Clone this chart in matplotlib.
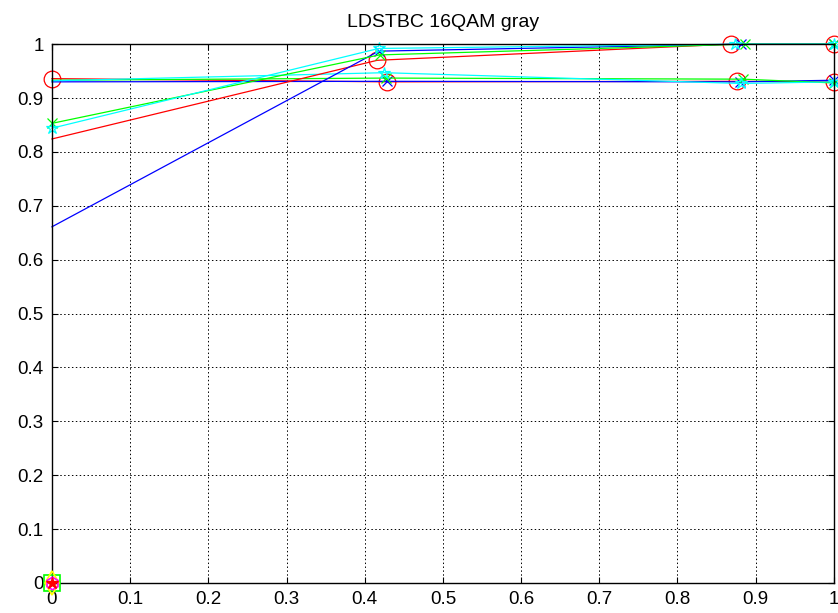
import matplotlib
matplotlib.use("Agg")
import matplotlib.pyplot as plt

plt.rcParams['font.family'] = ['Liberation Sans', 'DejaVu Sans']

title = "LDSTBC 16QAM gray"

# Upper group of curves
up_red_x = [0.0, 0.416, 0.868, 1.0]
up_red_y = [0.824, 0.970, 1.000, 1.000]
up_blue_x = [0.0, 0.418, 0.881, 1.0]
up_blue_y = [0.661, 0.987, 1.000, 1.000]
up_green_x = [0.0, 0.419, 0.886, 1.0]
up_green_y = [0.853, 0.980, 1.000, 1.000]
up_cyan_x = [0.0, 0.418, 0.873, 1.0]
up_cyan_y = [0.844, 0.992, 1.000, 1.000]

# Lower group of curves
lo_red_x = [0.0, 0.428, 0.876, 1.0]
lo_red_y = [0.936, 0.930, 0.931, 0.930]
lo_blue_x = [0.0, 0.429, 0.880, 1.0]
lo_blue_y = [0.930, 0.931, 0.930, 0.933]
lo_green_x = [0.0, 0.427, 0.884, 1.0]
lo_green_y = [0.933, 0.937, 0.935, 0.928]
lo_cyan_x = [0.0, 0.425, 0.881, 1.0]
lo_cyan_y = [0.932, 0.947, 0.927, 0.930]

# Single points at the origin
origin_x = [0.0]
origin_y = [0.0]

xticks = [0, 0.1, 0.2, 0.3, 0.4, 0.5, 0.6, 0.7, 0.8, 0.9, 1]
yticks = [0, 0.1, 0.2, 0.3, 0.4, 0.5, 0.6, 0.7, 0.8, 0.9, 1]

fig = plt.figure(figsize=(8.38, 6.13), dpi=100)
ax = fig.add_axes([0.062, 0.049, 0.933, 0.879])

lw = 0.9
# origin markers
ax.plot(origin_x, origin_y, 's', color=(0, 1, 0), ms=11, mfc='none', mew=1.2,
        clip_on=False, zorder=5)
ax.plot(origin_x, origin_y, 'd', color=(1, 1, 0), ms=12, mfc='none', mew=1.2,
        clip_on=False, zorder=5)
ax.plot(origin_x, origin_y, 'h', color=(1, 0, 1), ms=9, mfc='none', mew=1.2,
        clip_on=False, zorder=5)
ax.plot(origin_x, origin_y, '*', color=(1, 0, 0), ms=9, mew=1,
        clip_on=False, zorder=5)

# (x, y, colour, marker, size, marker indices)
series = [
    (lo_red_x, lo_red_y, (1, 0, 0), 'o', 12, [0, 1, 2, 3]),
    (lo_blue_x, lo_blue_y, (0, 0, 1), 'x', 7, [1, 2, 3]),
    (lo_green_x, lo_green_y, (0, 1, 0), 'x', 7, [1, 2, 3]),
    (lo_cyan_x, lo_cyan_y, (0, 1, 1), '*', 9, [1, 2, 3]),
    (up_red_x, up_red_y, (1, 0, 0), 'o', 12, [1, 2, 3]),
    (up_blue_x, up_blue_y, (0, 0, 1), 'x', 7, [1, 2, 3]),
    (up_green_x, up_green_y, (0, 1, 0), 'x', 7, [0, 1, 2, 3]),
    (up_cyan_x, up_cyan_y, (0, 1, 1), '*', 9, [0, 1, 2, 3]),
]
for x, y, c, m, s, idx in series:
    ax.plot(x, y, '-', color=c, lw=lw, marker=m, ms=s, mfc='none', mew=0.9,
            markevery=idx, clip_on=False)

ax.set_xlim(0, 1)
ax.set_ylim(0, 1)
ax.set_xticks(xticks)
ax.set_yticks(yticks)
ax.set_xticklabels([f"{v:g}" for v in xticks])
ax.set_yticklabels([f"{v:g}" for v in yticks])
ax.tick_params(direction='in', length=4, width=0.8, labelsize=13.5,
               top=True, right=True)
ax.tick_params(axis='x', pad=6)
ax.tick_params(axis='y', pad=6)
ax.grid(True, color='black', linestyle=(0, (1.5, 2.5)), linewidth=0.7)
for sp in ax.spines.values():
    sp.set_linewidth(1.0)
    sp.set_color('black')
ax.set_title(title, fontsize=14, pad=12)

fig.savefig("out.png", dpi=100)
